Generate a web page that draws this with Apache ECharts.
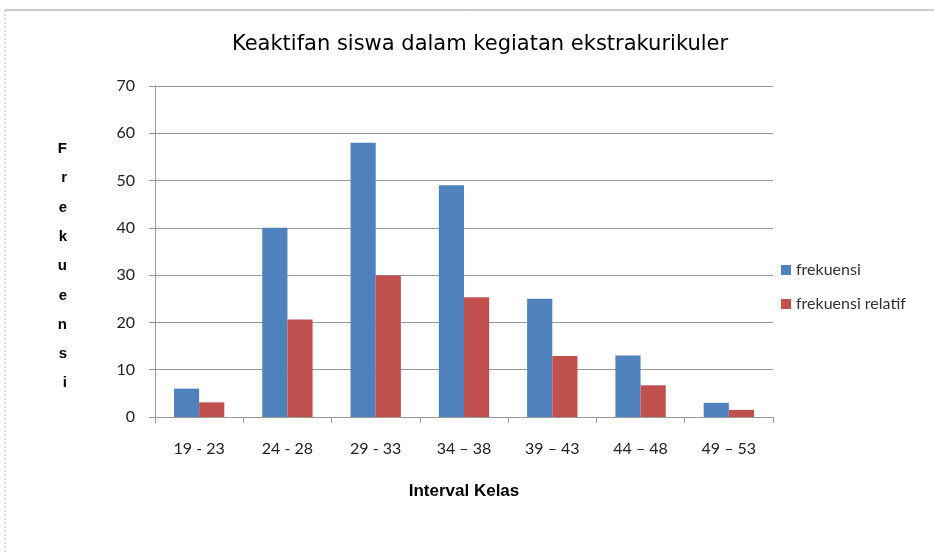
<!DOCTYPE html>
<html>
<head>
<meta charset="utf-8">
<script src="https://cdn.jsdelivr.net/npm/echarts@6/dist/echarts.min.js"></script>
<style>
    html, body {margin: 0; padding: 0; background: #fff;}
    #main {width: 934px; height: 553px;}
</style>
</head>
<body>
<div id="main"></div>
<script>
    var categories = ['19 - 23', '24 - 28', '29 - 33', '34 \u2013 38', '39 \u2013 43', '44 \u2013 48', '49 \u2013 53'];
    var frekuensi = [6, 40, 58, 49, 25, 13, 3];
    var frekuensiRelatif = [3.1, 20.6, 29.9, 25.3, 12.9, 6.7, 1.5];
    var yTicks = [0, 10, 20, 30, 40, 50, 60, 70];

    var chart = echarts.init(document.getElementById('main'));
    var option = {
        backgroundColor: '#fff',
        animation: false,
        title: {
            text: 'Keaktifan siswa dalam kegiatan ekstrakurikuler',
            left: 475,
            top: 29,
            textAlign: 'center',
            textStyle: {
                fontFamily: 'DejaVu Sans',
                fontSize: 21,
                fontWeight: 'normal',
                color: '#000'
            }
        },
        graphic: [
            // frame of the chart area
            {type: 'line', shape: {x1: 5, y1: 10, x2: 934, y2: 10}, style: {stroke: '#999', lineWidth: 1}},
            {type: 'line', shape: {x1: 5, y1: 10, x2: 5, y2: 553}, style: {stroke: '#bbb', lineWidth: 1, lineDash: [2, 2]}}
        ],
        legend: {
            orient: 'vertical',
            left: 776,
            top: 257,
            itemWidth: 10,
            itemHeight: 10,
            itemGap: 18,
            icon: 'rect',
            textStyle: {fontFamily: 'Lato', fontSize: 16, color: '#333'},
            data: ['frekuensi', 'frekuensi relatif']
        },
        grid: {
            left: 155,
            right: 161,
            top: 86,
            bottom: 136
        },
        xAxis: {
            type: 'category',
            data: categories,
            name: 'Interval Kelas',
            nameLocation: 'middle',
            nameGap: 66,
            nameTextStyle: {fontFamily: 'Liberation Sans', fontSize: 17, fontWeight: 'bold', color: '#000'},
            axisLine: {lineStyle: {color: '#999'}},
            axisTick: {show: true, length: 6, lineStyle: {color: '#999'}},
            axisLabel: {fontFamily: 'Lato', fontSize: 16, color: '#222', margin: 24}
        },
        yAxis: {
            type: 'value',
            min: 0,
            max: 70,
            interval: 10,
            // leading empty line pushes the stacked letters down to match the reference
            name: '\n' + 'Frekuensi'.split('').join('\n'),
            nameLocation: 'middle',
            nameRotate: 0,
            nameGap: 88,
            nameTextStyle: {fontFamily: 'Liberation Sans', fontSize: 15, fontWeight: 'bold', color: '#000', lineHeight: 29.3},
            axisLine: {show: true, lineStyle: {color: '#999'}},
            axisTick: {show: true, length: 6, lineStyle: {color: '#999'}},
            axisLabel: {
                fontFamily: 'Lato', fontSize: 16, color: '#222', margin: 20,
                formatter: function (v) {
                    return yTicks.indexOf(v) >= 0 ? String(v) : '';
                }
            },
            splitLine: {lineStyle: {color: '#999', width: 1}}
        },
        series: [
            {
                name: 'frekuensi',
                type: 'bar',
                barGap: '0%',
                barCategoryGap: '43%',
                itemStyle: {color: '#4f81bd'},
                data: frekuensi
            },
            {
                name: 'frekuensi relatif',
                type: 'bar',
                itemStyle: {color: '#c0504d'},
                data: frekuensiRelatif
            }
        ]
    };
    chart.setOption(option);
</script>
</body>
</html>
